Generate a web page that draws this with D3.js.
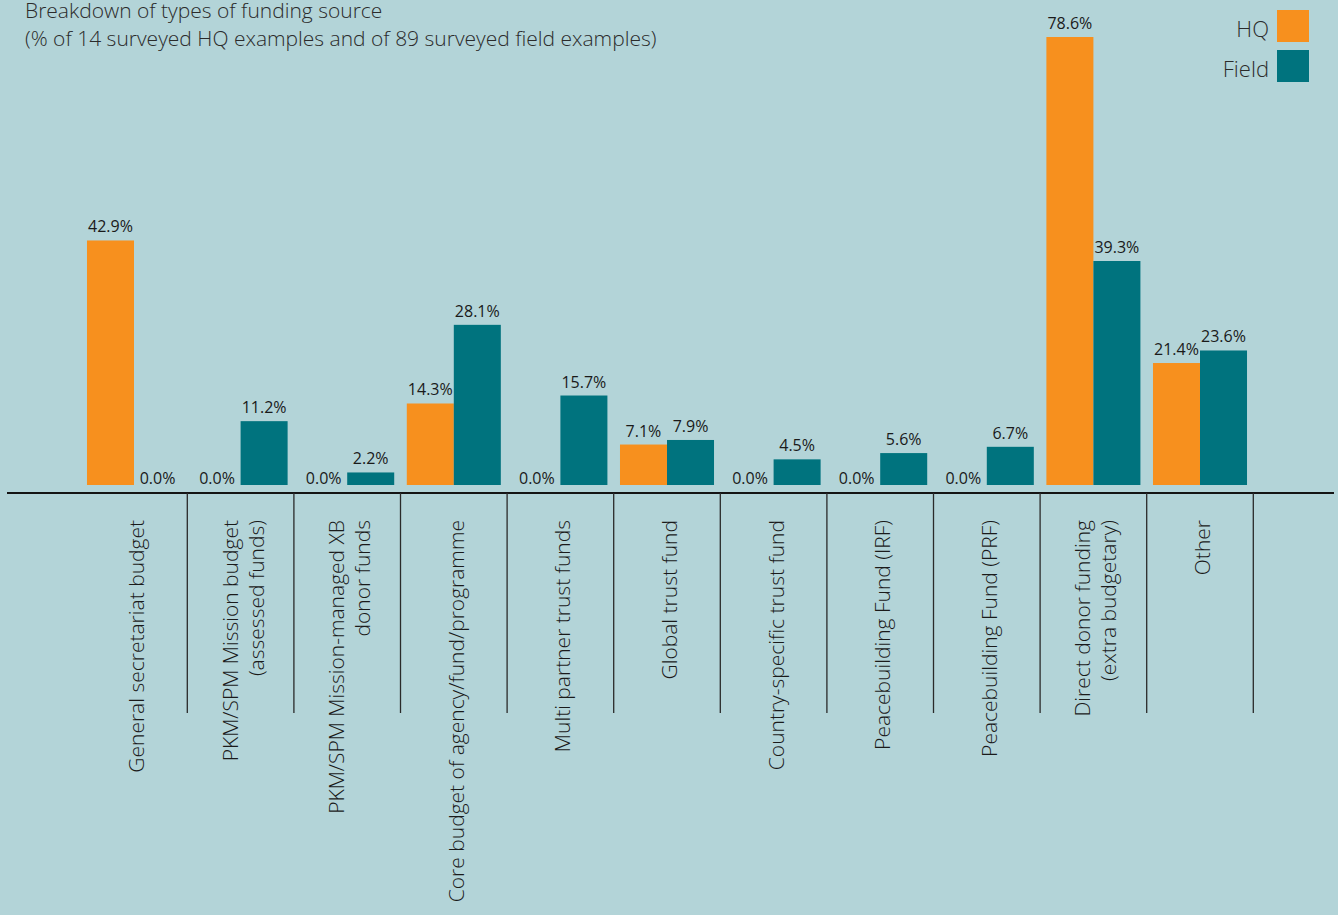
<!DOCTYPE html>
<html>
<head>
<meta charset="utf-8">
<script src="https://cdn.jsdelivr.net/npm/d3@7"></script>
<style>
  html, body { margin: 0; padding: 0; background: #b3d4d8; }
  svg { display: block; }
  text { font-family: "Open Sans", "Noto Sans", sans-serif; }
</style>
</head>
<body>
<svg id="chart" width="1338" height="915"></svg>
<script>
// ---- data ----
const categories = [
  ["General secretariat budget"],
  ["PKM/SPM Mission budget", "(assessed funds)"],
  ["PKM/SPM Mission-managed XB", "donor funds"],
  ["Core budget of agency/fund/programme"],
  ["Multi partner trust funds"],
  ["Global trust fund"],
  ["Country-specific trust fund"],
  ["Peacebuilding Fund (IRF)"],
  ["Peacebuilding Fund (PRF)"],
  ["Direct donor funding", "(extra budgetary)"],
  ["Other"]
];
const hqValues    = [42.9, 0.0, 0.0, 14.3, 0.0, 7.1, 0.0, 0.0, 0.0, 78.6, 21.4];
const fieldValues = [0.0, 11.2, 2.2, 28.1, 15.7, 7.9, 4.5, 5.6, 6.7, 39.3, 23.6];
const seriesNames = ["HQ", "Field"];
const seriesColors = ["#f7901e", "#00737e"];
const titleLines = [
  "Breakdown of types of funding source",
  "(% of 14 surveyed HQ examples and of 89 surveyed field examples)"
];

// ---- layout ----
const svg = d3.select("#chart");
const W = 1338, H = 915;
svg.append("rect").attr("width", W).attr("height", H).attr("fill", "#b3d4d8");

const idx = categories.map((c, i) => i);
const x0 = d3.scaleBand().domain(idx).range([80.7, 1253.3]).paddingInner(0).paddingOuter(0);
const bw = x0.bandwidth();
const x1 = d3.scaleBand().domain(seriesNames).range([bw * 0.059, bw * 0.941]).padding(0);
const baseY = 485;
const y = d3.scaleLinear().domain([0, d3.max(hqValues.concat(fieldValues))]).range([baseY, 37]);

const seriesValues = [hqValues, fieldValues];
const rows = idx.map(i => seriesNames.map((s, k) => ({ i, s, k, v: seriesValues[k][i] })));

const groups = svg.append("g").selectAll("g").data(rows).join("g")
  .attr("transform", d => `translate(${x0(d[0].i)},0)`);

groups.selectAll("rect").data(d => d).join("rect")
  .attr("x", d => x1(d.s))
  .attr("y", d => y(d.v))
  .attr("width", x1.bandwidth())
  .attr("height", d => y(0) - y(d.v))
  .attr("fill", d => seriesColors[d.k]);

groups.selectAll("text.val").data(d => d).join("text")
  .attr("class", "val")
  .attr("x", d => x1(d.s) + x1.bandwidth() / 2)
  .attr("y", d => d.v === 0 ? y(0) - 1 : y(d.v) - 8)
  .attr("text-anchor", "middle")
  .attr("font-size", 16)
  .attr("fill", "#1a1a1a")
  .text(d => d.v.toFixed(1) + "%");

// axis line
const axisY = 493;
svg.append("line")
  .attr("x1", 7).attr("x2", 1334).attr("y1", axisY).attr("y2", axisY)
  .attr("stroke", "#141414").attr("stroke-width", 2);

// separators (right edge of each band)
svg.append("g").selectAll("line").data(idx).join("line")
  .attr("x1", i => x0(i) + bw).attr("x2", i => x0(i) + bw)
  .attr("y1", axisY).attr("y2", 713)
  .attr("stroke", "#2a2a2a").attr("stroke-width", 1.3);

// category labels
const lineH = 26;
const labels = svg.append("g").selectAll("text").data(idx).join("text")
  .attr("transform", i => `translate(${x0(i) + bw / 2},520) rotate(-90)`)
  .attr("text-anchor", "end")
  .attr("font-size", 21)
  .attr("font-weight", 300)
  .attr("fill", "#1a1a1a");
labels.each(function(i) {
  const lines = categories[i];
  const n = lines.length;
  d3.select(this).selectAll("tspan").data(lines).join("tspan")
    .attr("x", 0)
    .attr("y", (t, j) => 10 + (j - (n - 1) / 2) * lineH)
    .text(t => t);
});

// title
svg.append("g").selectAll("text").data(titleLines).join("text")
  .attr("x", 25)
  .attr("y", (t, j) => 18 + j * 28)
  .attr("font-size", 21)
  .attr("font-weight", 300)
  .attr("fill", "#2b2b2b")
  .text(t => t);

// legend
const legend = svg.append("g").selectAll("g").data(seriesNames).join("g")
  .attr("transform", (s, k) => `translate(1277,${10 + k * 40})`);
legend.append("rect").attr("width", 32).attr("height", 32)
  .attr("fill", (s, k) => seriesColors[k]);
legend.append("text")
  .attr("x", -8).attr("y", 27)
  .attr("text-anchor", "end")
  .attr("font-size", 22)
  .attr("font-weight", 300)
  .attr("fill", "#2b2b2b")
  .text(s => s);
</script>
</body>
</html>
